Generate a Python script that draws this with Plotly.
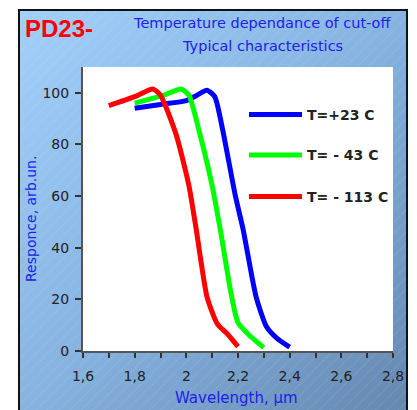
import base64
import plotly.graph_objects as go

# ---- data ----
wl_blue = [1.80, 1.90, 2.00, 2.04, 2.08, 2.11, 2.14, 2.19, 2.22, 2.27, 2.31, 2.35, 2.40]
resp_blue = [94.0, 95.5, 97.0, 99.0, 101.0, 98.5, 86.0, 60.0, 47.0, 21.0, 9.5, 5.0, 1.5]

wl_green = [1.80, 1.91, 1.98, 2.01, 2.05, 2.10, 2.135, 2.17, 2.20, 2.25, 2.30]
resp_green = [96.0, 99.0, 101.5, 99.0, 85.0, 64.0, 45.0, 24.0, 11.0, 5.5, 1.3]

wl_red = [1.70, 1.80, 1.87, 1.90, 1.96, 2.01, 2.04, 2.08, 2.12, 2.16, 2.20]
resp_red = [95.0, 98.5, 101.5, 99.0, 84.0, 64.0, 46.0, 21.0, 10.5, 6.5, 1.7]

series_names = ["T=+23 C", "T= - 43 C", "T= - 113 C"]
series_colors = ["#0000ff", "#00ff00", "#ff0000"]

x_ticks = [1.6, 1.8, 2.0, 2.2, 2.4, 2.6, 2.8]
y_ticks = [0, 20, 40, 60, 80, 100]

W, H = 417, 410
L, R, T, B = 83, 24, 67, 59
pw, ph = W - L - R, H - T - B
FONT = "DejaVu Sans"
BLUE_TXT = "#2020e8"


def px_x(p):
    return (p - L) / pw


def px_y(p):
    return (H - B - p) / ph


# background panel (gradient + hatching + black frame) as an inline SVG image
fx0, fy0, fx1, fy1 = 18, 9, 408, 414
fw, fh = fx1 - fx0, fy1 - fy0
svg = f'''<svg xmlns="http://www.w3.org/2000/svg" width="{fw}" height="{fh}" viewBox="0 0 {fw} {fh}" preserveAspectRatio="none">
<defs>
<linearGradient id="g" x1="0" y1="0" x2="1" y2="1">
<stop offset="0" stop-color="#a2d0fb"/>
<stop offset="0.5" stop-color="#86b3e0"/>
<stop offset="1" stop-color="#6587b0"/>
</linearGradient>
<pattern id="h" width="8" height="8" patternUnits="userSpaceOnUse" patternTransform="rotate(45)">
<line x1="0" y1="0" x2="0" y2="8" stroke="#ffffff" stroke-opacity="0.3" stroke-width="1" stroke-dasharray="1,1"/>
</pattern>
</defs>
<rect x="0" y="0" width="{fw}" height="{fh}" fill="url(#g)"/>
<rect x="0" y="0" width="{fw}" height="{fh}" fill="url(#h)"/>
<rect x="1" y="1" width="{fw-2}" height="{fh-2}" fill="none" stroke="#111111" stroke-width="2"/>
</svg>'''
src = "data:image/svg+xml;base64," + base64.b64encode(svg.encode()).decode()

fig = go.Figure()
for xs, ys, name, col in [(wl_blue, resp_blue, series_names[0], series_colors[0]),
                          (wl_green, resp_green, series_names[1], series_colors[1]),
                          (wl_red, resp_red, series_names[2], series_colors[2])]:
    fig.add_trace(go.Scatter(x=xs, y=ys, mode="lines", name=name,
                             line=dict(color=col, width=5, shape="spline", smoothing=0.6),
                             showlegend=False, hoverinfo="x+y+name"))

shapes = [dict(type="rect", xref="paper", yref="paper", x0=0, x1=1, y0=0, y1=1,
               fillcolor="white", line=dict(width=0), layer="below")]
annotations = []
leg_y = [114.5, 155, 196.5]
for name, col, ly in zip(series_names, series_colors, leg_y):
    shapes.append(dict(type="line", xref="paper", yref="paper",
                       x0=px_x(249), x1=px_x(302), y0=px_y(ly), y1=px_y(ly),
                       line=dict(color=col, width=5)))
    annotations.append(dict(xref="paper", yref="paper", x=px_x(305), y=px_y(ly),
                            xanchor="left", yanchor="middle", showarrow=False,
                            text=f"<b>{name}</b>",
                            font=dict(family=FONT, size=14, color="#222222")))

annotations += [
    dict(xref="paper", yref="paper", x=px_x(23), y=px_y(28), xanchor="left", yanchor="middle",
         showarrow=False, text="<b>PD23-</b>", font=dict(family="Arial", size=24, color="#ff0000")),
    dict(xref="paper", yref="paper", x=px_x(262), y=px_y(23), xanchor="center", yanchor="middle",
         showarrow=False, text="Temperature dependance of cut-off",
         font=dict(family=FONT, size=14.5, color=BLUE_TXT)),
    dict(xref="paper", yref="paper", x=px_x(262), y=px_y(46), xanchor="center", yanchor="middle",
         showarrow=False, text="Typical characteristics",
         font=dict(family=FONT, size=14.5, color=BLUE_TXT)),
    dict(xref="paper", yref="paper", x=px_x(31), y=px_y(219), xanchor="center", yanchor="middle",
         showarrow=False, text="Responce, arb.un.", textangle=-90,
         font=dict(family=FONT, size=14, color=BLUE_TXT)),
    dict(xref="paper", yref="paper", x=px_x(236), y=px_y(398), xanchor="center", yanchor="middle",
         showarrow=False, text="Wavelength, μm",
         font=dict(family=FONT, size=15, color=BLUE_TXT)),
]

fig.update_layout(
    width=W, height=H,
    margin=dict(l=L, r=R, t=T, b=B, pad=0),
    paper_bgcolor="white", plot_bgcolor="rgba(0,0,0,0)",
    separators=", ",
    showlegend=False,
    shapes=shapes, annotations=annotations,
    images=[dict(source=src, xref="paper", yref="paper",
                 x=px_x(fx0), y=px_y(fy0), sizex=fw / pw, sizey=fh / ph,
                 xanchor="left", yanchor="top", sizing="stretch", layer="below")],
    font=dict(family=FONT, size=14, color="#222222"),
)
fig.update_xaxes(range=[1.6, 2.8], tickvals=x_ticks, ticks="outside", ticklen=5, tickwidth=1.5,
                 tickcolor="#333333", showgrid=False, zeroline=False, showline=True,
                 linecolor="#555555", linewidth=2, tickfont=dict(family=FONT, size=14, color="#222222"),
                 ticklabelstandoff=6,
                 minor=dict(dtick=0.1, ticks="outside", ticklen=5, tickwidth=1.5, tickcolor="#333333",
                            showgrid=False),
                 fixedrange=True)
fig.update_yaxes(range=[0, 110], tickvals=y_ticks, ticks="outside", ticklen=6, tickwidth=1.5,
                 tickcolor="#333333", showgrid=False, zeroline=False, showline=True,
                 linecolor="#555555", linewidth=2, tickfont=dict(family=FONT, size=14, color="#222222"),
                 ticklabelstandoff=3,
                 fixedrange=True)

fig.write_html("out.html", config={"displayModeBar": False},
               post_script="document.body.style.margin='0';document.body.style.overflow='hidden';")
